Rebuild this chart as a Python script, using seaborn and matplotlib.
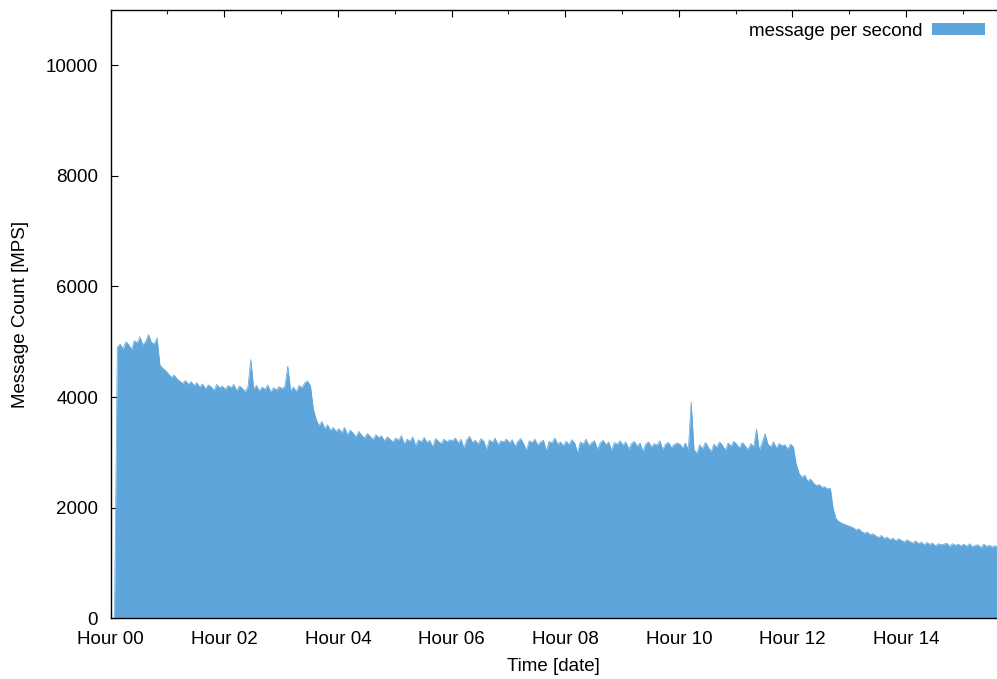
import numpy as np
import pandas as pd
import matplotlib
matplotlib.use("Agg")
import matplotlib.pyplot as plt
import seaborn as sns
from matplotlib.patches import Patch
from matplotlib.ticker import MultipleLocator

# ---- data: messages per second, sampled every 3 minutes starting at minute 4 ----
hour00 = [0, 4900, 4960, 4870, 5000, 4950, 4860, 5020, 4980, 5090, 4940, 5010, 5130,
          4990, 4960, 5070, 4580, 4520, 4480]
hour01 = [4420, 4360, 4400, 4330, 4290, 4250, 4300, 4230, 4280, 4210, 4260, 4180, 4240,
          4150, 4220, 4190, 4120, 4230, 4170, 4200]
hour02 = [4140, 4210, 4170, 4230, 4120, 4200, 4160, 4100, 4190, 4680, 4150, 4210, 4110,
          4180, 4140, 4220, 4090, 4170, 4130, 4190]
hour03 = [4150, 4200, 4560, 4120, 4180, 4100, 4210, 4170, 4260, 4290, 4200, 3780, 3600,
          3480, 3560, 3430, 3500, 3400, 3450, 3380]
hour04 = [3430, 3360, 3450, 3320, 3400, 3350, 3280, 3380, 3310, 3260, 3340, 3290, 3230,
          3320, 3270, 3300, 3210, 3280, 3240, 3190]
hour05 = [3260, 3220, 3300, 3150, 3240, 3200, 3280, 3120, 3230, 3190, 3270, 3180, 3220,
          3100, 3250, 3200, 3160, 3240, 3190, 3230]
hour06 = [3210, 3260, 3170, 3240, 3080, 3230, 3290, 3180, 3220, 3150, 3250, 3200, 3060,
          3230, 3180, 3260, 3140, 3210, 3190, 3240]
hour07 = [3170, 3230, 3110, 3200, 3250, 3160, 3040, 3210, 3180, 3240, 3130, 3190, 3220,
          3030, 3200, 3170, 3260, 3150, 3190, 3120]
hour08 = [3200, 3140, 3230, 3170, 3000, 3190, 3150, 3240, 3120, 3180, 3210, 3060, 3170,
          3220, 3140, 3190, 3040, 3180, 3150, 3210]
hour09 = [3130, 3190, 3060, 3160, 3200, 3110, 3170, 3020, 3150, 3190, 3100, 3160, 3130,
          3210, 3050, 3150, 3180, 3090, 3140, 3170]
hour10 = [3150, 3080, 3170, 3040, 3910, 3050, 2980, 3140, 3060, 3180, 3100, 3010, 3150,
          3090, 3190, 3130, 3040, 3170, 3110, 3200]
hour11 = [3150, 3080, 3180, 3120, 3050, 3160, 3100, 3420, 3040, 3180, 3340, 3150, 3100,
          3190, 3080, 3160, 3120, 3140, 3060, 3150]
hour12 = [3100, 2780, 2620, 2550, 2590, 2480, 2520, 2450, 2400, 2420, 2370, 2380, 2340,
          2350, 1980, 1800, 1750, 1720, 1700, 1680]
hour13 = [1660, 1640, 1600, 1620, 1570, 1540, 1560, 1510, 1530, 1490, 1460, 1500, 1440,
          1470, 1420, 1450, 1400, 1440, 1410, 1380]
hour14 = [1420, 1390, 1360, 1400, 1350, 1380, 1330, 1370, 1340, 1360, 1310, 1350, 1330,
          1340, 1360, 1300, 1350, 1320, 1340, 1310]
hour15 = [1340, 1300, 1350, 1290, 1320, 1330, 1280, 1340, 1300, 1320, 1290, 1310, 1300]

start_minute = 4
step_minutes = 3
tick_hours = [0, 2, 4, 6, 8, 10, 12, 14]
tick_labels = ["Hour 00", "Hour 02", "Hour 04", "Hour 06", "Hour 08", "Hour 10",
               "Hour 12", "Hour 14"]
y_ticks = [0, 2000, 4000, 6000, 8000, 10000]

values = (hour00 + hour01 + hour02 + hour03 + hour04 + hour05 + hour06 + hour07 +
          hour08 + hour09 + hour10 + hour11 + hour12 + hour13 + hour14 + hour15)
minutes = start_minute + step_minutes * np.arange(len(values))
df = pd.DataFrame({"hour": minutes / 60.0, "mps": values})

# ---- styling ----
sns.set_theme(style="ticks")
plt.rcParams["font.family"] = ["Liberation Sans", "DejaVu Sans"]
plt.rcParams["text.color"] = "black"
plt.rcParams["axes.labelcolor"] = "black"
color = "#5DA5DA"

fig = plt.figure(figsize=(9.97, 6.79), dpi=100)
ax = fig.add_axes([0.111, 0.0894, 0.889, 0.8959])

ax.fill_between(df["hour"], 0, df["mps"], color=color, linewidth=0)
sns.lineplot(data=df, x="hour", y="mps", ax=ax, color=color, linewidth=0.5)

ax.set_xlim(0, 15.6)
ax.set_ylim(0, 11000)
ax.set_xticks(tick_hours)
ax.set_xticklabels(tick_labels)
ax.xaxis.set_minor_locator(MultipleLocator(1))
ax.set_yticks(y_ticks)
ax.set_yticklabels([str(v) for v in y_ticks])

ax.tick_params(axis="both", which="major", direction="in", length=5, width=0.8,
               labelsize=13.5, colors="black")
ax.tick_params(axis="x", which="both", top=True, pad=9)
ax.tick_params(axis="x", which="minor", direction="in", length=3, width=0.8, top=True)
ax.tick_params(axis="y", which="major", pad=9)

for side in ["left", "top", "bottom"]:
    ax.spines[side].set_color("black")
    ax.spines[side].set_linewidth(1.0)
ax.spines["right"].set_visible(False)

ax.set_xlabel("Time [date]", fontsize=13.5, labelpad=7, color="black")
ax.set_ylabel("Message Count [MPS]", fontsize=13.5, labelpad=12, color="black")

handle = Patch(facecolor=color, edgecolor="none", label="message per second")
leg = ax.legend(handles=[handle], loc="upper right", bbox_to_anchor=(1.003, 1.004),
                frameon=False, fontsize=13.5, markerfirst=False,
                handlelength=2.8, handleheight=0.65, handletextpad=0.5,
                borderaxespad=0.4)
for t in leg.get_texts():
    t.set_color("black")

fig.savefig("out.png", dpi=100)
